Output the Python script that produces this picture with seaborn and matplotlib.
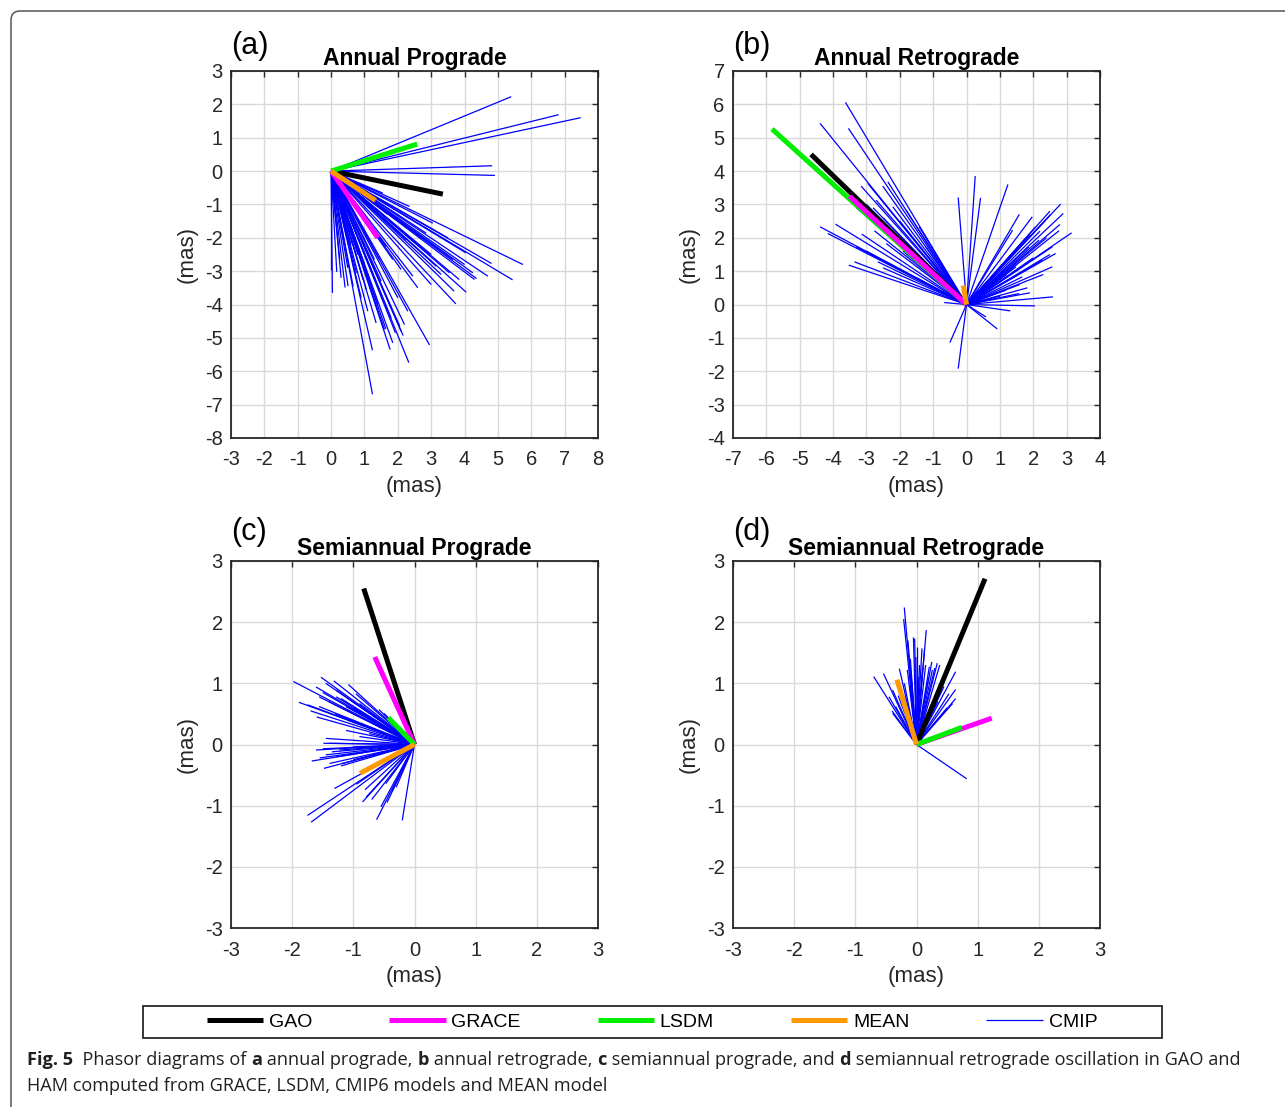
import numpy as np
import pandas as pd
import matplotlib
matplotlib.use("Agg")
import matplotlib.pyplot as plt
from matplotlib.lines import Line2D
from matplotlib.patches import FancyBboxPatch, Rectangle
import seaborn as sns

# ---------------- data (mas) ----------------
panel_ids = ["a", "b", "c", "d"]
panel_titles = ["Annual Prograde", "Annual Retrograde", "Semiannual Prograde", "Semiannual Retrograde"]
xlims = [(-3, 8), (-7, 4), (-3, 3), (-3, 3)]
ylims = [(-8, 3), (-4, 7), (-3, 3), (-3, 3)]

series_names = ["GAO", "GRACE", "LSDM", "MEAN", "CMIP"]
series_colors = ["#000000", "#FF00FF", "#00EE00", "#FF9900", "#0000FF"]

# thick phasors, one value per panel (a, b, c, d)
gao_x = [3.35, -4.66, -0.83, 1.12]
gao_y = [-0.69, 4.50, 2.55, 2.71]
grace_x = [1.40, -3.51, -0.65, 1.23]
grace_y = [-2.00, 3.25, 1.43, 0.43]
lsdm_x = [2.58, -5.83, -0.43, 0.74]
lsdm_y = [0.81, 5.26, 0.44, 0.28]
mean_x = [1.33, -0.10, -0.89, -0.32]
mean_y = [-0.88, 0.57, -0.47, 1.06]

# CMIP6 model phasors
cmip_a_x = [5.40, 6.82, 7.48, 4.83, 4.91, 5.75, 5.44, 4.81, 4.70, 4.36, 4.30, 4.05, 3.84, 3.74, 3.69,
            2.95, 2.33, 2.16, 2.06, 1.77, 1.64, 1.24, 1.24, 0.04, 0.00, 0.17, 0.42, 0.51, 2.45, 2.10,
            3.05, 2.35, 1.55, 1.85, 1.30, 0.76, 0.96, 2.65, 3.15, 3.55, 4.04, 1.93, 1.60, 1.35, 1.06,
            0.66, 0.26, 1.65, 2.25, 2.85, 3.65, 4.25, 2.10, 1.85, 1.45,
            1.00, 1.20, 0.80, 1.50, 0.60, 1.10, 1.40, 0.90, 2.00, 2.30, 2.60, 3.00, 3.30, 3.00, 2.70,
            2.00, 1.70, 3.50, 4.00, 0.30, 0.50, 1.80, 2.20]
cmip_a_y = [2.23, 1.69, 1.60, 0.16, -0.13, -2.80, -3.26, -2.77, -3.15, -3.22, -3.25, -3.63, -3.25, -3.98, -3.60,
            -5.21, -5.74, -4.93, -4.65, -5.35, -4.73, -6.69, -5.37, -3.65, -2.95, -3.02, -3.49, -3.45, -3.15, -2.95,
            -1.56, -1.06, -0.66, -2.65, -2.65, -3.05, -3.25, -2.26, -2.85, -3.05, -2.45, -4.85, -4.75, -4.55, -3.55,
            -3.45, -2.65, -2.26, -2.06, -1.86, -2.65, -3.05, -4.80, -5.15, -2.65,
            -2.80, -3.00, -2.50, -3.30, -2.20, -4.20, -4.00, -3.80, -3.80, -4.20, -3.50, -3.40, -3.10, -2.50, -2.00,
            -1.50, -1.30, -2.00, -2.80, -3.20, -2.90, -4.40, -4.60]

cmip_b_x = [-3.63, -4.39, -3.54, -3.16, -2.96, -2.51, -2.36, -4.39, -3.93, -4.16, -3.14, -2.76, -3.36, -3.53,
            -2.66, -2.21, -1.81, -1.42, -3.31, -2.41, -1.81, -2.71, -1.22, -0.67, -0.25, 0.26, 0.42, 1.24,
            -0.50, -0.25, 0.92, 0.58, 2.82, 2.90, 3.15, 1.58, 2.52, 2.77, 2.67, 2.07, 1.87, 1.67, 1.82, 2.59,
            2.05, 1.31, 1.18, 1.38, 2.17, 2.37, 2.57, 1.48, 2.27, 1.97, 1.58, 2.57,
            -3.00, -2.80, -2.50, -3.30, -2.00, -2.20, -1.90, -3.00, -2.50, -1.50,
            2.20, 2.40, 1.90, 1.70, 2.00, 2.50, 1.50, 1.20, 2.30, 1.60, 1.90, 1.00, 0.80, 2.80, 2.50]
cmip_b_y = [6.06, 5.43, 5.28, 3.55, 3.63, 3.55, 3.68, 2.33, 2.41, 2.13, 2.11, 2.21, 1.28, 1.18,
            1.28, 2.93, 2.83, 2.33, 1.73, 1.83, 1.53, 3.13, 1.73, 0.06, 3.21, 3.85, 3.20, 3.60,
            -1.14, -1.92, -0.73, -0.37, 3.01, 2.73, 2.15, 2.70, 2.70, 2.21, 1.53, 2.33, 1.73, 0.83, 0.50, 0.23,
            -0.04, -0.19, 0.43, 2.23, 1.93, 2.53, 1.73, 1.13, 1.33, 2.63, 0.33, 1.13,
            3.00, 2.90, 2.60, 2.90, 2.50, 2.00, 1.60, 1.60, 1.10, 0.80,
            2.20, 2.00, 2.10, 1.90, 1.40, 1.50, 1.20, 0.90, 0.90, 0.60, 0.35, 0.25, 0.60, 2.40, 2.80]

cmip_c_x = [-1.98, -1.53, -1.32, -1.08, -1.89, -1.61, -1.75, -1.56, -1.28, -1.12, -0.90, -0.58, -0.50, -1.12,
            -1.49, -1.50, -1.68, -1.48, -1.39, -0.90, -1.23, -1.31, -1.75, -1.69, -0.85, -0.62, -0.55, -0.20,
            -0.81, -0.47, -0.22, -1.39, -1.45, -1.61, -1.01, -0.74, -1.56, -1.28, -0.96, -1.45, -0.79, -0.36,
            -1.28, -1.18,
            -1.40, -1.20, -1.00, -0.80, -1.30, -1.60, -1.45, -1.35, -1.55, -1.20, -1.00, -0.70, -0.45, -0.30,
            -0.95, -1.10, -0.60, -1.50, -1.70]
cmip_c_y = [1.03, 1.10, 1.04, 0.98, 0.69, 0.94, 0.65, 0.78, 0.89, 0.62, 0.67, 0.57, 0.51, 0.23,
            0.02, -0.07, -0.27, -0.39, -0.31, 0.13, -0.09, -0.72, -1.16, -1.27, -0.94, -1.23, -1.02, -1.24,
            -0.74, -0.64, -0.42, 0.02, -0.17, -0.09, -0.04, 0.18, 0.62, 0.78, 0.83, 1.00, -0.86, -0.75,
            -0.20, -0.31,
            0.70, 0.75, 0.60, 0.45, 0.50, 0.45, 0.10, -0.12, -0.22, -0.35, -0.25, -0.90, -0.95, -0.70,
            -0.65, 0.40, 0.30, 0.85, 0.55]

cmip_d_x = [-0.20, -0.21, 0.16, -0.03, -0.14, 0.09, -0.70, -0.54, -0.28, 0.15, 0.34, 0.38, 0.64, 0.64,
            0.64, 0.82, -0.39, -0.45, -0.09, 0.04, 0.26, 0.53, -0.34, -0.26, -0.01, 0.21, 0.43, 0.59,
            -0.15, -0.39, -0.20, 0.13,
            -0.10, 0.00, 0.05, 0.10, 0.25, 0.30, -0.20, -0.30, -0.10, 0.45, 0.50, 0.35, -0.40, 0.20, -0.05]
cmip_d_y = [2.24, 2.05, 1.87, 1.73, 1.70, 1.57, 1.11, 1.16, 1.24, 1.30, 1.33, 1.30, 1.19, 0.90,
            0.75, -0.56, 0.51, 0.78, 1.16, 1.11, 1.22, 0.83, 0.62, 0.94, 1.43, 1.27, 1.00, 0.67,
            1.22, 0.89, 0.78, 1.54,
            1.40, 1.60, 1.30, 1.25, 1.35, 1.25, 1.00, 0.80, 0.90, 0.95, 0.60, 0.70, 0.55, 1.10, 1.75]

cmip_x = [cmip_a_x, cmip_b_x, cmip_c_x, cmip_d_x]
cmip_y = [cmip_a_y, cmip_b_y, cmip_c_y, cmip_d_y]

# drawing order of thick phasors per panel (back to front)
draw_order = [["GAO", "GRACE", "LSDM", "MEAN"],
              ["LSDM", "GAO", "GRACE", "MEAN"],
              ["GAO", "GRACE", "LSDM", "MEAN"],
              ["GAO", "GRACE", "LSDM", "MEAN"]]

# ---------------- style ----------------
sns.set_theme(style="white")
plt.rcParams["font.family"] = ["Liberation Sans", "DejaVu Sans"]
plt.rcParams["lines.solid_capstyle"] = "butt"
plt.rcParams["axes.unicode_minus"] = False

W, H = 1285, 1107
fig = plt.figure(figsize=(W / 100, H / 100), dpi=100)
fig.patch.set_facecolor("white")

# outer frame of the figure (rounded corner at upper-left)
frame = FancyBboxPatch((0.11, -0.3), 13.2, 11.26,
                       boxstyle="round,pad=0,rounding_size=0.09",
                       transform=fig.dpi_scale_trans, facecolor="none",
                       edgecolor="#555555", lw=1.1, zorder=0)
fig.patches.append(frame)

ax_w, ax_h = 367 / W, 367 / H
lefts = [231 / W, 733 / W, 231 / W, 733 / W]
bottoms = [1 - 438 / H, 1 - 438 / H, 1 - 928 / H, 1 - 928 / H]
label_y = [46, 46, 532, 532]

def seg_frame(xs, ys):
    rows = []
    for i, (x, y) in enumerate(zip(xs, ys)):
        rows.append({"id": i, "step": 0, "x": 0.0, "y": 0.0})
        rows.append({"id": i, "step": 1, "x": x, "y": y})
    return pd.DataFrame(rows)

thick = {"GAO": (gao_x, gao_y), "GRACE": (grace_x, grace_y),
         "LSDM": (lsdm_x, lsdm_y), "MEAN": (mean_x, mean_y)}
color_of = dict(zip(series_names, series_colors))

for k in range(4):
    ax = fig.add_axes([lefts[k], bottoms[k], ax_w, ax_h])
    ax.set_facecolor("white")
    df_c = seg_frame(cmip_x[k], cmip_y[k])
    sns.lineplot(data=df_c, x="x", y="y", units="id", estimator=None, sort=False,
                 color=color_of["CMIP"], lw=0.9, ax=ax, legend=False, zorder=2)
    for z, name in enumerate(draw_order[k]):
        xs, ys = thick[name]
        df_t = seg_frame([xs[k]], [ys[k]])
        sns.lineplot(data=df_t, x="x", y="y", units="id", estimator=None, sort=False,
                     color=color_of[name], lw=3.6, ax=ax, legend=False, zorder=3 + z)
    ax.set_xlim(*xlims[k])
    ax.set_ylim(*ylims[k])
    ax.set_xticks(np.arange(xlims[k][0], xlims[k][1] + 1))
    ax.set_yticks(np.arange(ylims[k][0], ylims[k][1] + 1))
    ax.grid(True, color="#d9d9d9", lw=1.0, zorder=0)
    ax.set_axisbelow(True)
    ax.tick_params(direction="in", top=True, right=True, length=4, width=1.0,
                   color="#262626", labelsize=14.5, labelcolor="#262626")
    ax.tick_params(axis="x", pad=9)
    ax.tick_params(axis="y", pad=6)
    for s in ax.spines.values():
        s.set_color("#262626")
        s.set_linewidth(1.3)
        s.set_visible(True)
    ax.set_xlabel("(mas)", fontsize=16, color="#262626", labelpad=5)
    ax.set_ylabel("(mas)", fontsize=16, color="#262626", labelpad=5)
    ax.set_title(panel_titles[k], fontsize=16.5, fontweight="bold", pad=4, color="#000000")
    fig.text(lefts[k], 1 - label_y[k] / H, "(%s)" % panel_ids[k], fontsize=22,
             ha="left", va="center", color="#000000")

# legend (entries without frame, MATLAB-style box drawn separately)
handles = [Line2D([0], [0], color=c, lw=(3.6 if n != "CMIP" else 0.9))
           for n, c in zip(series_names, series_colors)]
leg = fig.legend(handles, series_names, loc="center", ncol=5,
                 bbox_to_anchor=(652 / W, 1 - 1022 / H), frameon=False,
                 fontsize=14, handlelength=2.9, handletextpad=0.3,
                 columnspacing=3.95, borderpad=0.3, borderaxespad=0)
for t in leg.get_texts():
    t.set_color("#000000")
legend_box = Rectangle((143 / W, 1 - 1038 / H), (1162 - 143) / W, 32 / H,
                       transform=fig.transFigure, facecolor="none",
                       edgecolor="#262626", lw=1.3, zorder=5)
fig.patches.append(legend_box)

# caption with mixed bold/regular runs
renderer = fig.canvas.get_renderer()
cap_font = ["Open Sans", "DejaVu Sans"]
cap_size = 13.1
lines = [
    [("Fig. 5", True), ("  Phasor diagrams of ", False), ("a", True), (" annual prograde, ", False),
     ("b", True), (" annual retrograde, ", False), ("c", True), (" semiannual prograde, and ", False),
     ("d", True), (" semiannual retrograde oscillation in GAO and", False)],
    [("HAM computed from GRACE, LSDM, CMIP6 models and MEAN model", False)],
]
line_y = [1060, 1086]
for segs, yy in zip(lines, line_y):
    x_px = 27
    for txt, bold in segs:
        t = fig.text(x_px / W, 1 - yy / H, txt, fontsize=cap_size, family=cap_font,
                     fontweight=("bold" if bold else "normal"), ha="left", va="center",
                     color="#231f20")
        bb = t.get_window_extent(renderer=renderer)
        x_px += bb.width

fig.savefig("out.png", dpi=100, facecolor="white")
